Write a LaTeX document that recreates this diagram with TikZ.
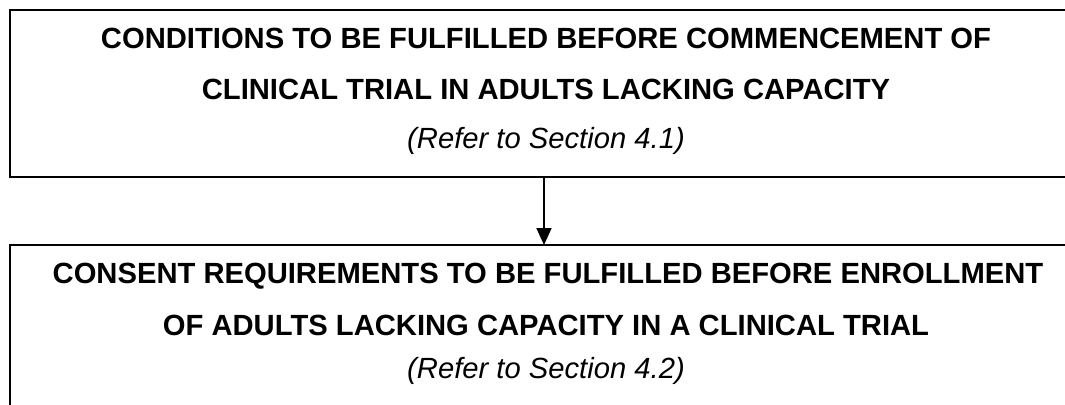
\documentclass[tikz,border=0pt]{standalone}
\usepackage{fontspec}
\setmainfont{Liberation Sans}
\usetikzlibrary{arrows.meta}
\tikzset{
  framebox/.style={draw, line width=1.5pt, outer sep=0pt, inner sep=0pt, anchor=north west,
    minimum width=805.5pt},
  headline/.style={font=\fontsize{21.9}{26}\selectfont\bfseries, anchor=base, inner sep=0pt},
  refline/.style={font=\fontsize{21.9}{26}\selectfont\itshape, anchor=base, inner sep=0pt},
  flow/.style={line width=1.3pt, -{Triangle[length=12.75pt,width=11.25pt]}}
}
\begin{document}
\begin{tikzpicture}[x=0.75pt,y=-0.75pt]
\useasboundingbox (0,0) rectangle (1065,404);
% the two boxes
\node[framebox, minimum height=125.25pt] (conditions) at (10,10) {};
\node[framebox, minimum height=138.75pt] (consent) at (10,245) {};
% texts of the upper box
\node[headline] (c1) at (546,48) {CONDITIONS TO BE FULFILLED BEFORE COMMENCEMENT OF};
\node[headline] (c2) at (546,99) {CLINICAL TRIAL IN ADULTS LACKING CAPACITY};
\node[refline] (c3) at (546,148) {(Refer to Section 4.1)};
% texts of the lower box
\node[headline] (e1) at (548,283) {CONSENT REQUIREMENTS TO BE FULFILLED BEFORE ENROLLMENT};
\node[headline] (e2) at (546,335) {OF ADULTS LACKING CAPACITY IN A CLINICAL TRIAL};
\node[refline] (e3) at (546,378) {(Refer to Section 4.2)};
% connector
\coordinate (ax) at (544,0);
\draw[flow] (conditions.south -| ax) -- (consent.north -| ax);
\end{tikzpicture}
\end{document}
